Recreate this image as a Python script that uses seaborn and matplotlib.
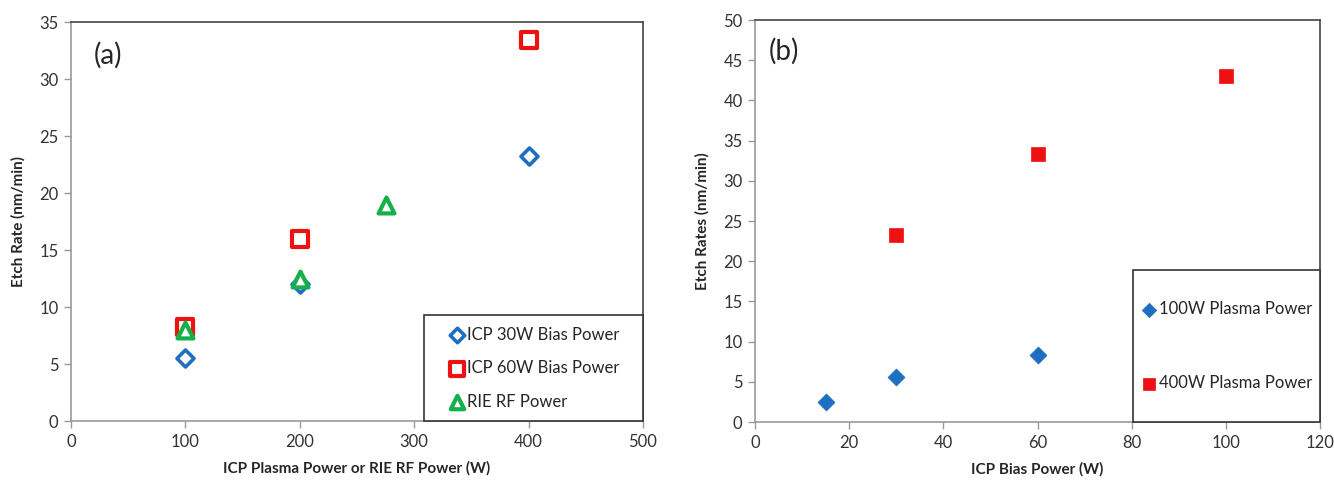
import numpy as np
import pandas as pd
import matplotlib
matplotlib.use("Agg")
import matplotlib.pyplot as plt
from matplotlib.patches import Rectangle
import seaborn as sns

# panel (a): etch rate vs plasma / RF power
icp30_x = [100, 200, 400]
icp30_y = [5.5, 12.0, 23.3]
icp60_x = [100, 200, 400]
icp60_y = [8.3, 16.0, 33.4]
rie_x = [100, 200, 275]
rie_y = [8.0, 12.5, 19.0]

# panel (b): etch rate vs bias power
p100_x = [15, 30, 60]
p100_y = [2.5, 5.6, 8.3]
p400_x = [30, 60, 100]
p400_y = [23.3, 33.3, 43.0]

BLUE = "#1f6fc0"
RED = "#ee1111"
GREEN = "#16b04a"

sns.set_style("white")
plt.rcParams['font.family'] = ['Lato', 'DejaVu Sans']


def style_axes(ax, xlim, ylim, xticks, yticks):
    ax.set_xlim(*xlim)
    ax.set_ylim(*ylim)
    ax.set_xticks(xticks)
    ax.set_yticks(yticks)
    for side in ['top', 'right']:
        ax.spines[side].set_color('#444444')
        ax.spines[side].set_linewidth(1.2)
    for side in ['left', 'bottom']:
        ax.spines[side].set_color('#999999')
        ax.spines[side].set_linewidth(1.2)
    ax.tick_params(axis='both', direction='out', length=5, width=1,
                   color='#999999', labelsize=12, labelcolor='#333333',
                   bottom=True, left=True, pad=4)


def boxed_legend(ax, x0, y1, spacing):
    # legend frame drawn by hand so horizontal and vertical padding can differ
    ax.add_patch(Rectangle((x0, 0), 1 - x0, y1, transform=ax.transAxes,
                           facecolor='white', edgecolor='#333333', linewidth=1.2,
                           zorder=5, clip_on=False))
    leg = ax.legend(loc='center', bbox_to_anchor=(x0, 0, 1 - x0, y1), frameon=False,
                    fontsize=12, handletextpad=0.1, handlelength=1.0,
                    labelspacing=spacing, borderaxespad=0, markerscale=0.85)
    leg.set_zorder(6)
    return leg


fig = plt.figure(figsize=(13.34, 4.84), dpi=100)
ax1 = fig.add_axes([0.0532, 0.130, 0.4288, 0.824])
ax2 = fig.add_axes([0.566, 0.128, 0.4235, 0.8306])

# --- (a) open markers
sns.scatterplot(x=icp30_x, y=icp30_y, ax=ax1, marker='D', s=75, facecolor='white',
                edgecolor=BLUE, linewidth=2.6, label='ICP 30W Bias Power', zorder=3)
sns.scatterplot(x=icp60_x, y=icp60_y, ax=ax1, marker='s', s=130, facecolor='white',
                edgecolor=RED, linewidth=3.0, label='ICP 60W Bias Power', zorder=2)
sns.scatterplot(x=rie_x, y=rie_y, ax=ax1, marker='^', s=130, facecolor='white',
                edgecolor=GREEN, linewidth=3.0, label='RIE RF Power', zorder=4)
style_axes(ax1, (0, 500), (0, 35), np.arange(0, 501, 100), np.arange(0, 36, 5))
ax1.set_xlabel('ICP Plasma Power or RIE RF Power (W)', fontsize=11, fontweight='bold', labelpad=8)
ax1.set_ylabel('Etch Rate (nm/min)', fontsize=11, fontweight='bold', labelpad=10)
ax1.text(0.04, 0.95, '(a)', transform=ax1.transAxes, fontsize=20, va='top', ha='left')
boxed_legend(ax1, 0.618, 0.265, 1.05)

# --- (b) filled markers
sns.scatterplot(x=p100_x, y=p100_y, ax=ax2, marker='D', s=75, color=BLUE,
                edgecolor=BLUE, linewidth=0.5, label='100W Plasma Power', zorder=3)
sns.scatterplot(x=p400_x, y=p400_y, ax=ax2, marker='s', s=115, color=RED,
                edgecolor=RED, linewidth=0.5, label='400W Plasma Power', zorder=3)
style_axes(ax2, (0, 120), (0, 50), np.arange(0, 121, 20), np.arange(0, 51, 5))
ax2.set_xlabel('ICP Bias Power (W)', fontsize=11, fontweight='bold', labelpad=8)
ax2.set_ylabel('Etch Rates (nm/min)', fontsize=11, fontweight='bold', labelpad=10)
ax2.text(0.025, 0.955, '(b)', transform=ax2.transAxes, fontsize=20, va='top', ha='left')
boxed_legend(ax2, 0.669, 0.378, 3.5)

fig.savefig('out.png', dpi=100, facecolor='white')
